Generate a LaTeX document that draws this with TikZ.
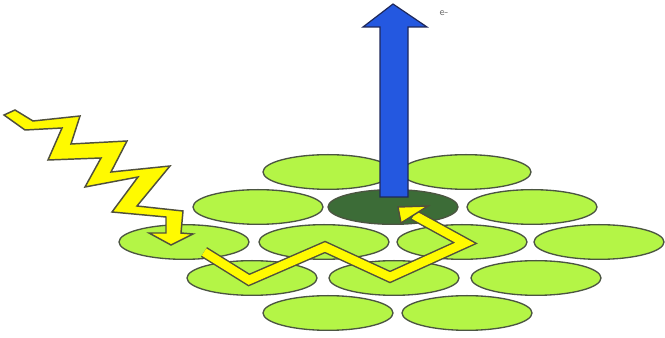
\documentclass[tikz,border=0pt]{standalone}
\usetikzlibrary{shapes.geometric}
\definecolor{cellgreen}{RGB}{180,245,70}
\definecolor{darkcell}{RGB}{60,108,55}
\definecolor{celledge}{RGB}{75,85,65}
\definecolor{boltyellow}{RGB}{255,250,0}
\definecolor{boltedge}{RGB}{80,80,60}
\definecolor{eblue}{RGB}{36,88,224}
\definecolor{eedge}{RGB}{30,40,90}
\tikzset{
  cell/.style={ellipse, draw=celledge, line width=1pt, fill=cellgreen,
    minimum width=97.5pt, minimum height=26pt, inner sep=0pt},
  darkcellst/.style={cell, fill=darkcell},
  boltst/.style={fill=boltyellow, draw=boltedge, line width=1.1pt, line join=miter},
  pathedge/.style={draw=boltedge, line width=8.6pt, line join=miter, line cap=butt},
  pathfill/.style={draw=boltyellow, line width=6.4pt, line join=miter, line cap=butt},
  arrowst/.style={fill=eblue, draw=eedge, line width=0.9pt, line join=miter}
}
\begin{document}
\begin{tikzpicture}[x=0.75pt,y=-0.75pt]
\useasboundingbox (0,0) rectangle (665,338);
% lattice
\node[cell] (r1a) at (328,172) {};
\node[cell] (r1b) at (466,172) {};
\node[cell] (r2a) at (258,207) {};
\node[darkcellst] (r2b) at (393,207) {};
\node[cell] (r2c) at (532,207) {};
\node[cell] (r3a) at (184,242) {};
\node[cell] (r3b) at (324,242) {};
\node[cell] (r3c) at (462,242) {};
\node[cell] (r3d) at (599,242) {};
\node[cell] (r4a) at (252,278) {};
\node[cell] (r4b) at (394,278) {};
\node[cell] (r4c) at (536,278) {};
\node[cell] (r5a) at (328,313) {};
\node[cell] (r5b) at (467,313) {};
% blue electron arrow
\draw[arrowst] (380,197) -- (380,27) -- (363,27) -- (393,4) -- (427,27) -- (408,27) -- (408,197) -- cycle;
\node[font=\fontsize{8}{9}\selectfont\sffamily, text=black!55, inner sep=0pt] (elabel) at (444,13) {e-};
% lightning bolt
\draw[boltst] (4,115) -- (15,110) -- (33,121) -- (80,116) -- (71,144) -- (127,141)
  -- (111,172) -- (170,166) -- (137,206) -- (183,211) -- (181,233) -- (193,234)
  -- (171,245) -- (149,233) -- (166,233) -- (166,217) -- (112,212) -- (138,177)
  -- (85,187) -- (101,158) -- (48,160) -- (62,128) -- (25,130) -- cycle;
% energy transfer path
\coordinate (p0) at (204,252);
\coordinate (p1) at (249,280);
\coordinate (p2) at (325,247);
\coordinate (p3) at (390,277);
\coordinate (p4) at (465,243);
\coordinate (p5) at (414,215);
\draw[pathedge] (p0) -- (p1) -- (p2) -- (p3) -- (p4) -- (p5);
\draw[pathfill] (p0) -- (p1) -- (p2) -- (p3) -- (p4) -- (p5);
\draw[boltst] (398,207) -- (428,206) -- (401,223) -- cycle;
\end{tikzpicture}
\end{document}
